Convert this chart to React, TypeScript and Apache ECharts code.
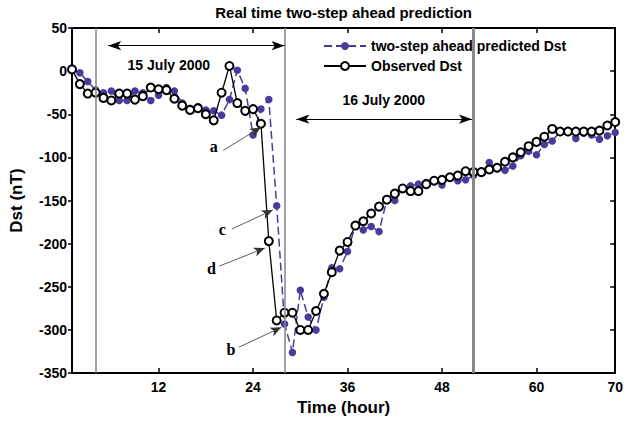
import React, { useEffect, useRef } from "react";
import * as echarts from "echarts";

const FONT = "'Liberation Sans', Arial, Helvetica, sans-serif";
const SERIF = "'Liberation Serif', 'Times New Roman', serif";

const hours = [
  1, 2, 3, 4, 5, 6, 7, 8, 9, 10, 11, 12, 13, 14, 15, 16, 17, 18, 19, 20,
  21, 22, 23, 24, 25, 26, 27, 28, 29, 30, 31, 32, 33, 34, 35, 36, 37, 38, 39, 40,
  41, 42, 43, 44, 45, 46, 47, 48, 49, 50, 51, 52, 53, 54, 55, 56, 57, 58, 59, 60,
  61, 62, 63, 64, 65, 66, 67, 68, 69, 70,
];

const observedDst = [
  2, -15, -26, -25, -31, -34, -26, -26, -33, -29, -19, -21, -22, -32, -40, -45, -43, -50, -57, -25,
  6, -37, -46, -44, -61, -197, -289, -280, -280, -300, -300, -278, -258, -233, -208, -198, -179, -174, -165, -157,
  -149, -142, -136, -139, -139, -131, -127, -126, -123, -121, -116, -117, -117, -114, -112, -105, -100, -94, -87, -82,
  -76, -67, -70, -70, -70, -70, -70, -69, -63, -59,
];

const predictedDst = [
  2, -2, -12, -22, -25, -23, -34, -34, -23, -25, -34, -28, -19, -23, -37, -43, -41, -45, -46, -51,
  -33, 1, -20, -74, -44, -33, -156, -293, -326, -254, -285, -300, -262, -228, -229, -209, -179, -184, -180, -186,
  -149, -150, -136, -133, -131, -129, -128, -132, -123, -127, -126, -121, -116, -106, -113, -115, -110, -98, -93, -97,
  -85, -81, -70, -71, -78, -72, -74, -79, -75, -71,
];

const xTickValues = [12, 24, 36, 48, 60, 70];
const dayBoundaries = [4, 28, 52];

const titleText = "Real time two-step ahead prediction";
const predName = "two-step ahead predicted Dst";
const obsName = "Observed Dst";

// annotation arrows: [label, labelPos, lineStart, arrowTip]
const annotations: [string, [number, number], [number, number], [number, number]][] = [
  ["a", [19.0, -87], [20.2, -92], [25.0, -65]],
  ["c", [20.1, -184], [21.3, -183], [26.5, -161]],
  ["d", [18.7, -229], [19.7, -226], [25.5, -205]],
  ["b", [21.2, -323], [22.2, -320], [27.6, -297]],
];

const dateArrows: [string, [number, number], [number, number], [number, number]][] = [
  ["15 July 2000", [13.3, 7], [5.6, 29.5], [28, 29.5]],
  ["16 July 2000", [40.6, -34], [29.5, -55.7], [51.8, -55.7]],
];

export default function App() {
  const ref = useRef<HTMLDivElement>(null);

  useEffect(() => {
    document.body.style.margin = "0";
    if (!ref.current) return;
    const chart = echarts.init(ref.current, null, { renderer: "svg" });

    const baseX = {
      type: "value",
      min: 1,
      max: 70,
      splitLine: { show: false },
      axisLine: { show: true, onZero: false, lineStyle: { color: "#000", width: 2 } },
      axisTick: {
        show: true,
        inside: true,
        length: 5,
        customValues: xTickValues,
        lineStyle: { color: "#000", width: 1.5 },
      },
    };
    const baseY = {
      type: "value",
      min: -350,
      max: 50,
      interval: 50,
      splitLine: { show: false },
      axisLine: { show: true, onZero: false, lineStyle: { color: "#000", width: 2 } },
    };

    const option: any = {
      animation: false,
      backgroundColor: "#fff",
      textStyle: { fontFamily: FONT },
      grid: { left: 70, right: 7, top: 26, bottom: 43 },
      legend: {
        data: [predName, obsName],
        orient: "vertical",
        left: 318,
        top: 34,
        itemWidth: 42,
        itemHeight: 10,
        itemGap: 6,
        textStyle: { fontFamily: FONT, fontSize: 14, fontWeight: "bold", color: "#000" },
      },
      xAxis: [
        {
          ...baseX,
          position: "bottom",
          axisLabel: {
            customValues: xTickValues,
            fontFamily: FONT,
            fontSize: 14,
            fontWeight: "bold",
            color: "#000",
            margin: 7,
          },
          name: "Time (hour)",
          nameLocation: "middle",
          nameGap: 23,
          nameTextStyle: { fontFamily: FONT, fontSize: 17, fontWeight: "bold", color: "#000" },
        },
        {
          ...baseX,
          position: "top",
          axisLabel: { show: false },
          name: titleText,
          nameLocation: "middle",
          nameGap: 8,
          nameTextStyle: { fontFamily: FONT, fontSize: 15, fontWeight: "bold", color: "#000" },
        },
      ],
      yAxis: [
        {
          ...baseY,
          position: "left",
          axisTick: { show: true, inside: false, length: 4, lineStyle: { color: "#000", width: 1.5 } },
          axisLabel: { fontFamily: FONT, fontSize: 14, fontWeight: "bold", color: "#000", margin: 5 },
          name: "Dst (nT)",
          nameLocation: "middle",
          nameGap: 47,
          nameTextStyle: { fontFamily: FONT, fontSize: 17, fontWeight: "bold", color: "#000" },
        },
        {
          ...baseY,
          position: "right",
          axisTick: { show: true, inside: true, length: 5, lineStyle: { color: "#000", width: 1.5 } },
          axisLabel: { show: false },
        },
      ],
      series: [
        {
          name: "dayLines",
          type: "line",
          data: [],
          silent: true,
          markLine: {
            silent: true,
            symbol: ["none", "none"],
            label: { show: false },
            lineStyle: { color: "#878b90", width: 1.6, type: "solid" },
            data: dayBoundaries.map((d, i) => ({
              xAxis: d,
              lineStyle: { width: i === 2 ? 3 : 1.6 },
            })),
          },
        },
        {
          name: "dateArrows",
          type: "line",
          data: [],
          silent: true,
          markLine: {
            silent: true,
            symbol: ["arrow", "arrow"],
            symbolSize: [7, 13],
            label: { show: false },
            lineStyle: { color: "#000", width: 1, type: "solid" },
            data: dateArrows.map((a) => [{ coord: a[2] }, { coord: a[3] }]),
          },
          markPoint: {
            silent: true,
            symbol: "circle",
            symbolSize: 1,
            itemStyle: { color: "rgba(0,0,0,0)" },
            label: {
              show: true,
              position: "inside",
              fontFamily: FONT,
              fontSize: 14,
              fontWeight: "bold",
              color: "#000",
              formatter: (p: any) => p.name,
            },
            data: dateArrows.map((a) => ({ name: a[0], coord: a[1] })),
          },
        },
        {
          name: "annotations",
          type: "line",
          data: [],
          silent: true,
          z: 5,
          markLine: {
            silent: true,
            symbol: ["none", "arrow"],
            symbolSize: [7, 11],
            label: { show: false },
            lineStyle: { color: "#333", width: 0.8, type: "solid" },
            data: annotations.map((a) => [{ coord: a[2] }, { coord: a[3] }]),
          },
          markPoint: {
            silent: true,
            symbol: "circle",
            symbolSize: 1,
            itemStyle: { color: "rgba(0,0,0,0)" },
            label: {
              show: true,
              position: "inside",
              fontFamily: SERIF,
              fontSize: 16,
              fontWeight: "bold",
              color: "#000",
              formatter: (p: any) => p.name,
            },
            data: annotations.map((a) => ({ name: a[0], coord: a[1] })),
          },
        },
        {
          name: predName,
          type: "line",
          z: 3,
          data: hours.map((h, i) => [h, predictedDst[i]]),
          symbol: "circle",
          symbolSize: 7.5,
          showSymbol: true,
          itemStyle: { color: "#4b3a9c" },
          lineStyle: { color: "#4b3a9c", width: 1.5, type: [8, 4] },
        },
        {
          name: obsName,
          type: "line",
          z: 4,
          data: hours.map((h, i) => [h, observedDst[i]]),
          symbol: "emptyCircle",
          symbolSize: 8,
          showSymbol: true,
          itemStyle: { color: "#000", borderColor: "#000", borderWidth: 1.8 },
          lineStyle: { color: "#000", width: 1.3 },
        },
      ],
    };

    chart.setOption(option);
    return () => chart.dispose();
  }, []);

  return (
    <div
      ref={ref}
      style={{ position: "absolute", left: 0, top: 0, width: 626, height: 421 }}
    />
  );
}
